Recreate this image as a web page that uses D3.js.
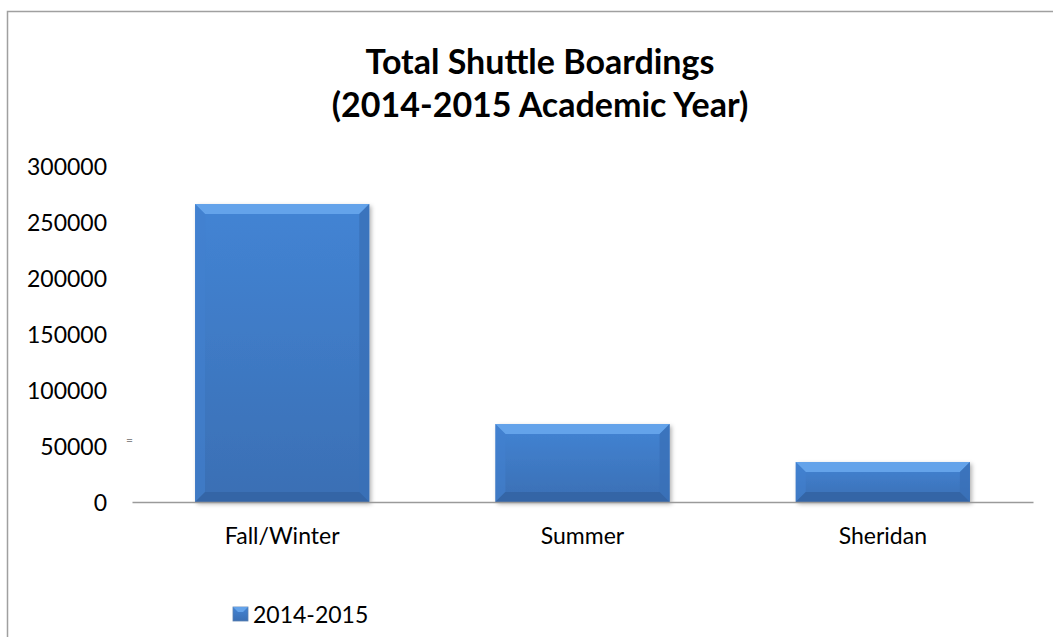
<!DOCTYPE html>
<html>
<head>
<meta charset="utf-8">
<script src="https://cdn.jsdelivr.net/npm/d3@7"></script>
<style>
  body { margin: 0; background: #fff; }
  svg { display: block; font-family: Lato, "Open Sans", sans-serif; }
</style>
</head>
<body>
<div id="container"></div>
<script>
const categories = ['Fall/Winter', 'Summer', 'Sheridan'];
const values = [266000, 69600, 35700];
const seriesName = '2014-2015';
const yTicks = [0, 50000, 100000, 150000, 200000, 250000, 300000];
const titleLines = ['Total Shuttle Boardings', '(2014-2015 Academic Year)'];

const w = 1053, h = 637;
const margin = {top: 166, right: 20, bottom: 135, left: 132};
const bev = 10;
const labelSize = 23;

let svg = d3.select('#container')
    .append('svg')
    .attr('width', w)
    .attr('height', h);

let defs = svg.append('defs');
let grad = defs.append('linearGradient')
    .attr('id', 'barGrad')
    .attr('x1', 0).attr('y1', 0).attr('x2', 0).attr('y2', 1);
grad.append('stop').attr('offset', '0%').attr('stop-color', '#4384d4');
grad.append('stop').attr('offset', '100%').attr('stop-color', '#3a6fb4');

let shadow = defs.append('filter').attr('id', 'shadow')
    .attr('x', '-10%').attr('y', '-10%').attr('width', '130%').attr('height', '130%');
shadow.append('feDropShadow')
    .attr('dx', 2).attr('dy', 2).attr('stdDeviation', 2)
    .attr('flood-color', '#000').attr('flood-opacity', 0.3);

// chart frame (only top and left edges are visible in the picture)
svg.append('path')
    .attr('d', 'M7.5,' + h + 'V11.5H' + w)
    .attr('fill', 'none')
    .attr('stroke', '#a0a0a0')
    .attr('stroke-width', 1.5);

svg.append('text')
    .attr('text-anchor', 'middle')
    .attr('font-weight', 'bold')
    .attr('font-size', 34)
    .attr('fill', '#000')
    .selectAll('tspan')
    .data(titleLines)
    .enter()
    .append('tspan')
    .attr('x', 540)
    .attr('y', (d, i) => 74 + i * 43)
    .text(d => d);

const x = d3.scaleBand()
    .domain(categories)
    .range([margin.left, w - margin.right])
    .paddingInner(0.42)
    .paddingOuter(0.21);

const y = d3.scaleLinear()
    .domain([0, 300000])
    .range([h - margin.bottom, margin.top]);

let yAxis = d3.axisLeft(y)
    .tickValues(yTicks)
    .tickSize(0)
    .tickPadding(0)
    .tickFormat(d3.format('d'));

svg.append('g')
    .attr('transform', 'translate(107,0)')
    .call(yAxis)
    .call(g => g.select('.domain').remove())
    .selectAll('text')
    .attr('font-family', 'Lato, "Open Sans", sans-serif')
    .attr('font-size', labelSize)
    .attr('fill', '#000')
    .attr('dy', '0.36em');

// stray mark beside the 50000 label
svg.append('text')
    .attr('x', 126)
    .attr('y', y(50000) - 2)
    .attr('font-size', 12)
    .attr('fill', '#888')
    .text('=');

let bars = svg.append('g')
    .selectAll('g')
    .data(values)
    .enter()
    .append('g');

bars.append('rect')
    .attr('x', (d, i) => x(categories[i]))
    .attr('y', d => y(d))
    .attr('width', x.bandwidth())
    .attr('height', d => y(0) - y(d))
    .attr('fill', 'url(#barGrad)')
    .attr('filter', 'url(#shadow)');

// bevel: top light, right and bottom slightly darker
bars.append('path')
    .attr('d', (d, i) => {
        const x0 = x(categories[i]), x1 = x0 + x.bandwidth(), t = y(d);
        return 'M' + x0 + ',' + t + 'H' + x1 + 'L' + (x1 - bev) + ',' + (t + bev) + 'H' + (x0 + bev) + 'Z';
    })
    .attr('fill', '#64a3ea');

bars.append('path')
    .attr('d', (d, i) => {
        const x0 = x(categories[i]), x1 = x0 + x.bandwidth(), t = y(d), b = y(0);
        return 'M' + x1 + ',' + t + 'V' + b + 'L' + (x1 - bev) + ',' + (b - bev) + 'V' + (t + bev) + 'Z';
    })
    .attr('fill', '#3a71b8')
    .attr('opacity', 0.8);

bars.append('path')
    .attr('d', (d, i) => {
        const x0 = x(categories[i]), t = y(d), b = y(0);
        return 'M' + x0 + ',' + t + 'V' + b + 'L' + (x0 + bev) + ',' + (b - bev) + 'V' + (t + bev) + 'Z';
    })
    .attr('fill', '#4280cf')
    .attr('opacity', 0.6);

bars.append('path')
    .attr('d', (d, i) => {
        const x0 = x(categories[i]), x1 = x0 + x.bandwidth(), b = y(0);
        return 'M' + x0 + ',' + b + 'H' + x1 + 'L' + (x1 - bev) + ',' + (b - bev) + 'H' + (x0 + bev) + 'Z';
    })
    .attr('fill', '#3465a6');

let xAxis = d3.axisBottom(x).tickSize(0).tickPadding(26);

svg.append('g')
    .attr('transform', 'translate(0,' + y(0) + ')')
    .call(xAxis)
    .call(g => g.select('.domain').attr('stroke', '#9a9a9a').attr('stroke-width', 1.5))
    .selectAll('text')
    .attr('font-family', 'Lato, "Open Sans", sans-serif')
    .attr('font-size', labelSize)
    .attr('fill', '#000');

let legend = svg.append('g')
    .attr('transform', 'translate(233,607)');

legend.append('rect')
    .attr('width', 15).attr('height', 14)
    .attr('fill', 'url(#barGrad)')
    .attr('stroke', '#5a7fae')
    .attr('stroke-width', 0.8);
legend.append('path')
    .attr('d', 'M0,0H15L10,5H5Z')
    .attr('fill', '#64a3ea');

legend.append('text')
    .attr('x', 20)
    .attr('y', 16)
    .attr('font-size', labelSize)
    .attr('fill', '#000')
    .text(seriesName);
</script>
</body>
</html>
